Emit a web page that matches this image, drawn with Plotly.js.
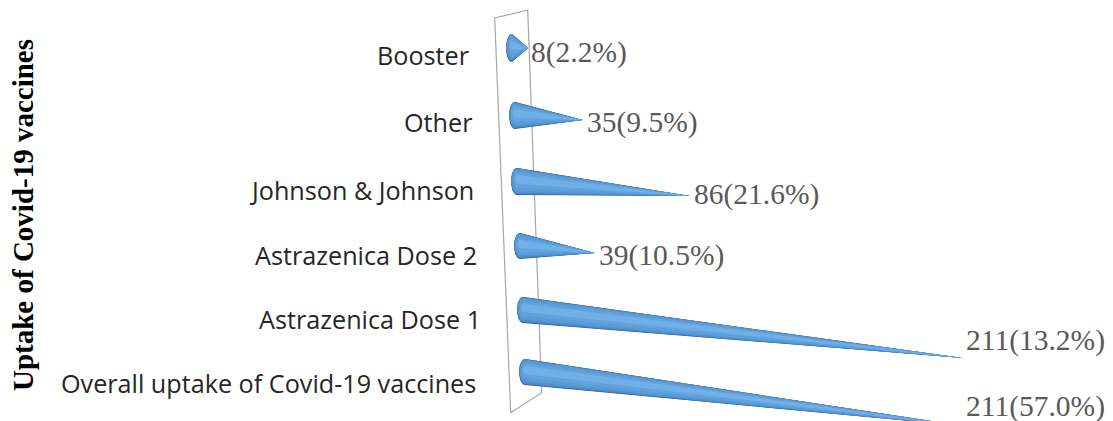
<!DOCTYPE html>
<html><head><meta charset="utf-8">
<script src="https://cdn.plot.ly/plotly-3.0.1.min.js"></script>
<style>html,body{margin:0;padding:0;background:#fff}#c{width:1113px;height:421px}</style>
</head><body><div id="c"></div>
<script>
// DATA
const categories = ["Booster","Other","Johnson & Johnson","Astrazenica Dose 2","Astrazenica Dose 1","Overall uptake of Covid-19 vaccines"];
const values = [8,35,86,39,211,211];
const percents = ["2.2%","9.5%","21.6%","10.5%","13.2%","57.0%"];
const axisTitle = "Uptake of Covid-19 vaccines";

// Projection of Excel's 3-D cone chart (page pixels)
const W=1113,H=421,marginL=48,marginT=9,pxPerUnit=2.085,zeroPx=510;
const baseX=[512,515,517,520,523,525];
const baseY=[48,115.5,181.5,246,310,372];
const radiusY=[14,13.5,13.5,13,13,13];
const radiusX=6;
const foreshorten=[0.96,0.93,0.965,0.92,1,1];
const slope=[0,0.066,0.084,0.093,0.109,0.123];
const catLabelX=[471,474,476,479,483,478];
const catLabelY=[55,122,190,255,319,383];
const valLabelX=[529,585,692,597,964,964];
const valLabelY=[52,122,194,255,340,406];
const wall=[[494.7,18],[527.7,10],[541.7,392.7],[510.7,412.7]];

const px2x=p=>(p-zeroPx)/pxPerUnit;
const layers=[
 {f:1.00,d:0.00,c:'#2f5f8e'},{f:0.98,d:-0.015,c:'#3d74aa'},{f:0.95,d:-0.03,c:'#4a86c2'},
 {f:0.90,d:-0.05,c:'#5292d0'},{f:0.78,d:-0.08,c:'#5a9bd8'},{f:0.56,d:-0.12,c:'#62a3df'},{f:0.32,d:-0.16,c:'#70b0e6'}];

const traces=[];
values.forEach((v,i)=>{
  const bx=baseX[i],by=baseY[i];
  const len=v*pxPerUnit*foreshorten[i];
  const tipPx=bx+len,tipY=by+len*slope[i];
  layers.forEach(L=>{
    const xs=[],ys=[];
    const ry=radiusY[i]*L.f,cy=by+L.d*radiusY[i];
    const rx=radiusX*L.f;
    for(let a=90;a<=270;a+=10){
      const t=a*Math.PI/180;
      xs.push(px2x(bx+rx*Math.cos(t)));
      ys.push(cy-ry*Math.sin(t));
    }
    xs.push(px2x(tipPx));ys.push(tipY);
    xs.push(xs[0]);ys.push(ys[0]);
    traces.push({type:'scatter',mode:'lines',x:xs,y:ys,fill:'toself',fillcolor:L.c,
      line:{width:0,color:L.c},hoverinfo:'skip',showlegend:false});
  });
});

const annotations=[];
categories.forEach((c,i)=>annotations.push({x:px2x(catLabelX[i]),y:catLabelY[i],xref:'x',yref:'y',text:c,showarrow:false,
  xanchor:'right',yanchor:'middle',font:{family:'"Open Sans",sans-serif',size:25.2,color:'#262626'}}));
values.forEach((v,i)=>annotations.push({x:px2x(valLabelX[i]),y:valLabelY[i],xref:'x',yref:'y',text:v+'('+percents[i]+')',showarrow:false,
  xanchor:'left',yanchor:'middle',font:{family:'"Liberation Serif",serif',size:29.5,color:'#595959'}}));

const layout={
  width:W,height:H,margin:{l:marginL,r:0,t:marginT,b:0},paper_bgcolor:'#fff',plot_bgcolor:'#fff',showlegend:false,
  xaxis:{range:[px2x(marginL),px2x(W)],visible:false,fixedrange:true},
  yaxis:{range:[H,marginT],showgrid:false,zeroline:false,showticklabels:false,ticks:'',showline:false,fixedrange:true,
    title:{text:axisTitle,standoff:4,font:{family:'"Liberation Serif",serif',size:29,color:'#000',weight:700}}},
  shapes:[{type:'path',xref:'x',yref:'y',layer:'below',
    path:'M'+wall.map(p=>px2x(p[0])+','+p[1]).join(' L')+' Z',
    line:{color:'#a6a6a6',width:1.2},fillcolor:'rgba(0,0,0,0)'}],
  annotations
};
Plotly.newPlot('c',traces,layout,{displayModeBar:false,staticPlot:true});
</script></body></html>
